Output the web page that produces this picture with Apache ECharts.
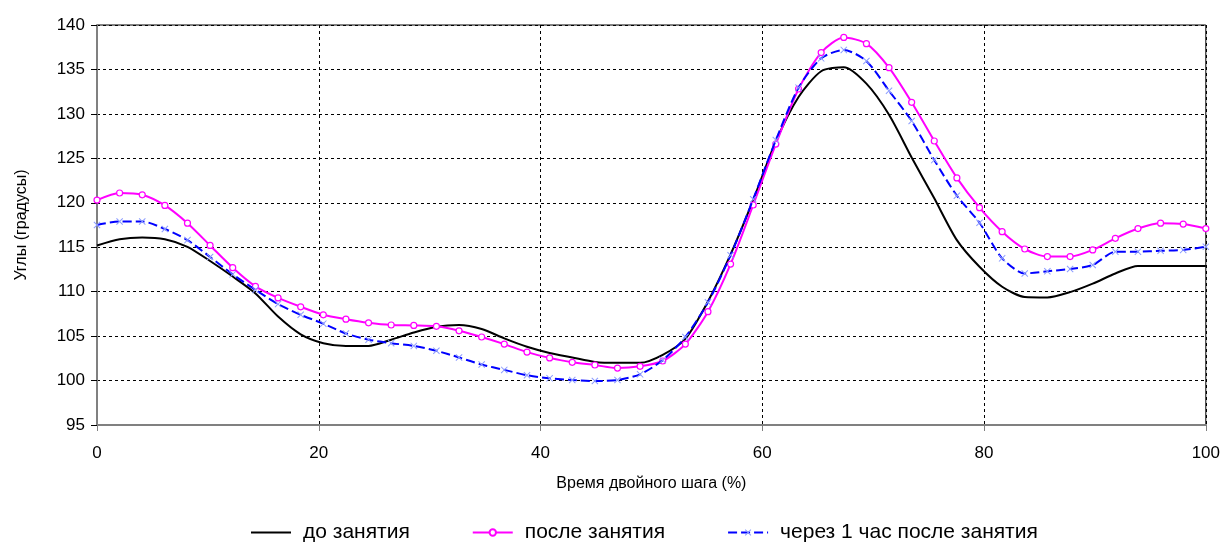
<!DOCTYPE html>
<html>
<head>
<meta charset="utf-8">
<script src="https://cdn.jsdelivr.net/npm/echarts@6/dist/echarts.min.js"></script>
<style>
  html, body { margin: 0; padding: 0; background: #fff; }
  #chart { width: 1223px; height: 542px; }
</style>
</head>
<body>
<div id="chart"></div>
<script>
// время двойного шага, % (50 отсчётов)
const pct = [0, 2.04, 4.08, 6.12, 8.16, 10.2, 12.24, 14.29, 16.33, 18.37,
  20.41, 22.45, 24.49, 26.53, 28.57, 30.61, 32.65, 34.69, 36.73, 38.78,
  40.82, 42.86, 44.9, 46.94, 48.98, 51.02, 53.06, 55.1, 57.14, 59.18,
  61.22, 63.27, 65.31, 67.35, 69.39, 71.43, 73.47, 75.51, 77.55, 79.59,
  81.63, 83.67, 85.71, 87.76, 89.8, 91.84, 93.88, 95.92, 97.96, 100];

const seriesNames = ['до занятия', 'после занятия', 'через 1 час после занятия'];

const doZan = [115.2, 115.9, 116.1, 115.9, 115.05, 113.45, 111.7, 109.8, 107.2, 105.2,
  104.2, 103.9, 103.9, 104.6, 105.4, 106.05, 106.25, 105.8, 104.75, 103.8,
  103.1, 102.6, 102.1, 102.0, 102.0, 102.9, 104.7, 108.9, 114.2, 120.3,
  126.9, 131.9, 134.8, 135.25, 133.4, 129.9, 125.1, 120.5, 115.8, 112.8,
  110.55, 109.4, 109.35, 109.95, 110.9, 112.05, 112.9, 112.9, 112.9, 112.9];

const posleZan = [120.3, 121.1, 120.9, 119.7, 117.7, 115.2, 112.7, 110.6, 109.3, 108.3,
  107.4, 106.9, 106.5, 106.25, 106.2, 106.1, 105.6, 104.9, 104.1, 103.2,
  102.55, 102.05, 101.75, 101.4, 101.6, 102.2, 104.1, 107.75, 113.1, 119.75,
  126.6, 132.8, 136.9, 138.6, 137.9, 135.2, 131.3, 126.95, 122.8, 119.45,
  116.75, 114.8, 113.95, 113.95, 114.7, 116.0, 117.1, 117.7, 117.6, 117.1];

const cherezChas = [117.5, 117.9, 117.9, 117.05, 115.8, 113.9, 111.95, 110.2, 108.6, 107.4,
  106.4, 105.3, 104.6, 104.2, 103.9, 103.35, 102.6, 101.8, 101.2, 100.6,
  100.25, 100.06, 99.95, 100.06, 100.7, 102.3, 104.9, 108.8, 114.1, 120.4,
  127.05, 132.95, 136.25, 137.2, 135.95, 132.6, 129.2, 124.8, 120.8, 117.75,
  113.75, 112.05, 112.3, 112.55, 113.0, 114.5, 114.5, 114.6, 114.7, 115.05];

const font = '"Liberation Sans", Arial, sans-serif';
const toPairs = arr => pct.map((x, i) => [x, arr[i]]);
const xMark = 'path://M0,1 L1,0 L5,4 L9,0 L10,1 L6,5 L10,9 L9,10 L5,6 L1,10 L0,9 L4,5 Z';

const chart = echarts.init(document.getElementById('chart'));
const option = {
  animation: false,
  backgroundColor: '#fff',
  textStyle: { fontFamily: font, color: '#000' },
  grid: {
    left: 97, right: 17, top: 25, bottom: 117,
    show: true, borderColor: '#000', borderWidth: 1
  },
  legend: {
    data: [
      { name: seriesNames[0], itemStyle: { opacity: 0 } },
      { name: seriesNames[1] },
      { name: seriesNames[2] }
    ],
    left: 245, top: 517,
    itemWidth: 40, itemHeight: 8, itemGap: 62,
    textStyle: { fontFamily: font, fontSize: 21, color: '#000', padding: [0, 0, 0, 7] }
  },
  xAxis: {
    type: 'value',
    min: 0, max: 100, interval: 20,
    name: 'Время двойного шага (%)',
    nameLocation: 'middle', nameGap: 51,
    nameTextStyle: { fontFamily: font, fontSize: 16, color: '#000' },
    axisLine: { show: true, lineStyle: { color: '#808080', width: 2 } },
    axisTick: { show: true, length: 6, lineStyle: { color: '#808080' } },
    axisLabel: { fontFamily: font, fontSize: 17, color: '#000', margin: 20 },
    splitLine: { show: true, lineStyle: { color: '#000', type: [3, 3], width: 1 } }
  },
  yAxis: {
    type: 'value',
    min: 95, max: 140, interval: 5,
    name: 'Углы (градусы)',
    nameLocation: 'middle', nameGap: 67,
    nameTextStyle: { fontFamily: font, fontSize: 16, color: '#000' },
    axisLine: { show: true, lineStyle: { color: '#808080', width: 2 } },
    axisTick: { show: true, length: 6, lineStyle: { color: '#000' } },
    axisLabel: { fontFamily: font, fontSize: 17, color: '#000', margin: 12 },
    splitLine: { show: true, lineStyle: { color: '#000', type: [3, 3], width: 1 } }
  },
  series: [
    {
      name: seriesNames[0],
      type: 'line',
      data: toPairs(doZan),
      smooth: 0.25,
      symbol: 'none',
      lineStyle: { color: '#000', width: 2 },
      itemStyle: { color: '#000' },
      z: 3
    },
    {
      name: seriesNames[1],
      type: 'line',
      data: toPairs(posleZan),
      smooth: 0.25,
      symbol: 'circle',
      symbolSize: 6,
      lineStyle: { color: '#ff00ff', width: 2 },
      itemStyle: { color: '#fff', borderColor: '#ff00ff', borderWidth: 1.2 },
      z: 4
    },
    {
      name: seriesNames[2],
      type: 'line',
      data: toPairs(cherezChas),
      smooth: 0.25,
      symbol: xMark,
      symbolSize: 7,
      lineStyle: { color: '#0000ff', width: 2, type: [9, 4] },
      itemStyle: { color: '#8c9cff' },
      z: 5
    }
  ]
};
chart.setOption(option);
</script>
</body>
</html>
